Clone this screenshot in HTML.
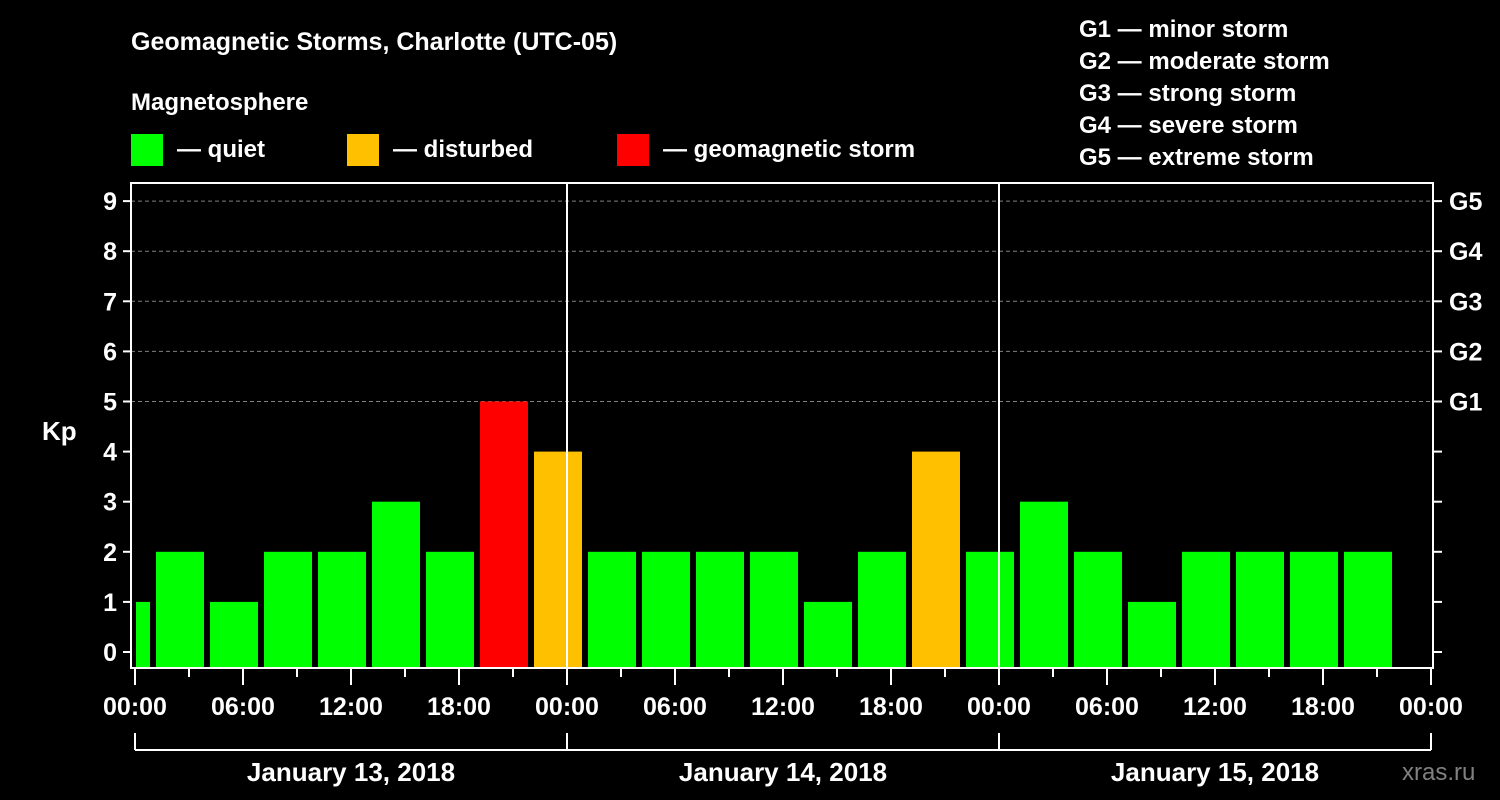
<!DOCTYPE html>
<html><head><meta charset="utf-8"><style>
html,body{margin:0;padding:0;background:#000;}
svg{display:block;font-family:"Liberation Sans",Arial,sans-serif;font-weight:bold;}
</style></head><body>
<svg id="c" width="1500" height="800" viewBox="0 0 1500 800">
<rect width="1500" height="800" fill="#000"/>
<text x="131" y="50" fill="#fff" font-size="25">Geomagnetic Storms, Charlotte (UTC-05)</text>
<text x="131" y="110" fill="#fff" font-size="24">Magnetosphere</text>
<g><rect x="131" y="134" width="32" height="32" fill="#00ff00"/><text x="177" y="157" fill="#fff" font-size="24">— quiet</text></g>
<g><rect x="347" y="134" width="32" height="32" fill="#ffc000"/><text x="393" y="157" fill="#fff" font-size="24">— disturbed</text></g>
<g><rect x="617" y="134" width="32" height="32" fill="#ff0000"/><text x="663" y="157" fill="#fff" font-size="24">— geomagnetic storm</text></g>
<g fill="#fff" font-size="24">
<text x="1079" y="37">G1 — minor storm</text>
<text x="1079" y="69">G2 — moderate storm</text>
<text x="1079" y="101">G3 — strong storm</text>
<text x="1079" y="133">G4 — severe storm</text>
<text x="1079" y="165">G5 — extreme storm</text>
</g>
<text x="42" y="440" fill="#fff" font-size="26">Kp</text>
<text x="1402" y="780" fill="#808080" font-size="24" font-weight="normal">xras.ru</text>
<g id="grid"></g><g id="bars"></g><g id="axes"></g>
</svg>
<script>
const values=[1,2,1,2,2,3,2,5,4,2,2,2,2,1,2,4,2,3,2,1,2,2,2,2];
const yTicks=[0,1,2,3,4,5,6,7,8,9];
const gLabels=["G1","G2","G3","G4","G5"];
const xTickLabels=["00:00","06:00","12:00","18:00","00:00","06:00","12:00","18:00","00:00","06:00","12:00","18:00","00:00"];
const dayLabels=["January 13, 2018","January 14, 2018","January 15, 2018"];
const firstBarStartHour=-2; // bars start at 22:00 of previous day (UTC offset)
const NS="http://www.w3.org/2000/svg";
const L=131,R=1433,T=183,B=668,X0=135,PXH=18;
function x(h){return X0+h*PXH;}
function y(v){return 652-v*50.1;}
function mk(tag,a,p){const e=document.createElementNS(NS,tag);for(const k in a)e.setAttribute(k,a[k]);(p||document.getElementById('c')).appendChild(e);return e;}
const grid=document.getElementById('grid'),bars=document.getElementById('bars'),axes=document.getElementById('axes');
[5,6,7,8,9].forEach(v=>{const l=mk('line',{x1:L,x2:R,y1:y(v),y2:y(v),stroke:'#808080','stroke-dasharray':'4,3','stroke-width':1},grid);

});
values.forEach((v,i)=>{let h0=firstBarStartHour+i*3;let x1=x(h0)+3,x2=x(h0+3)-3;x1=Math.max(x1,L+5);
const col=v>=5?'#ff0000':(v>=4?'#ffc000':'#00ff00');
const r=mk('rect',{x:x1,y:y(v),width:x2-x1,height:B-y(v),fill:col},bars);

});
[1,2].forEach(d=>{const l=mk('line',{x1:x(d*24),x2:x(d*24),y1:T,y2:B,stroke:'#fff','stroke-width':2},axes);

});
const box=mk('rect',{x:L,y:T,width:R-L,height:B-T,fill:'none',stroke:'#fff','stroke-width':2},axes);


yTicks.forEach(v=>{mk('line',{x1:L-8,x2:L,y1:y(v),y2:y(v),stroke:'#fff','stroke-width':2},axes);
mk('line',{x1:R,x2:R+9,y1:y(v),y2:y(v),stroke:'#fff','stroke-width':2},axes);
const t=mk('text',{x:L-14,y:y(v)+9,fill:'#fff','font-size':25,'text-anchor':'end'},axes);t.textContent=v;

});
gLabels.forEach((g,i)=>{const t=mk('text',{x:R+16,y:y(5+i)+9,fill:'#fff','font-size':25},axes);t.textContent=g;

});
for(let h=0;h<=72;h+=3){const major=h%6===0;mk('line',{x1:x(h),x2:x(h),y1:B,y2:B+(major?17:9),stroke:'#fff','stroke-width':2},axes);}
xTickLabels.forEach((s,i)=>{const t=mk('text',{x:x(i*6),y:715,fill:'#fff','font-size':25,'text-anchor':'middle'},axes);t.textContent=s;

});
mk('line',{x1:x(0),x2:x(72),y1:750,y2:750,stroke:'#fff','stroke-width':2},axes);
for(let d=0;d<=3;d++)mk('line',{x1:x(d*24),x2:x(d*24),y1:733,y2:750,stroke:'#fff','stroke-width':2},axes);
dayLabels.forEach((s,i)=>{const t=mk('text',{x:x(i*24+12),y:781,fill:'#fff','font-size':26,'text-anchor':'middle'},axes);t.textContent=s;

});
</script>
</body></html>
